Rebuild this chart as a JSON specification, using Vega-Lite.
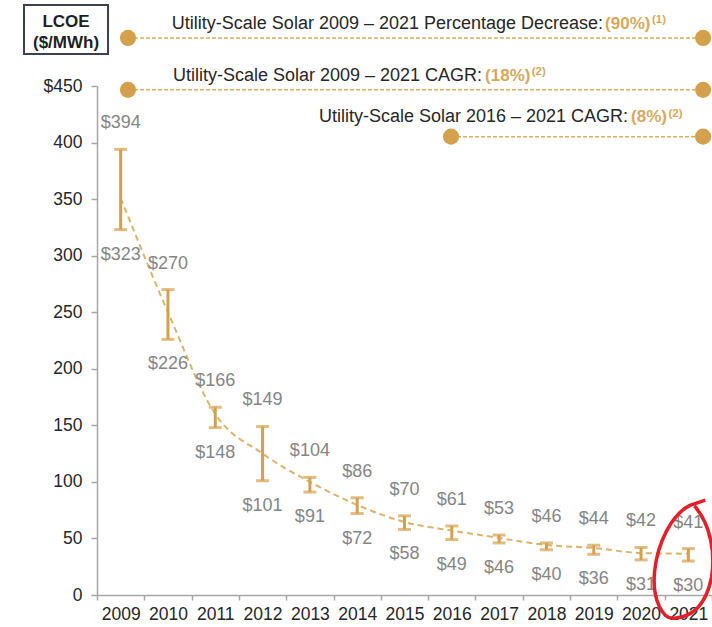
{
  "$schema": "https://vega.github.io/schema/vega-lite/v6.json",
  "autosize": {"type": "none"},
  "padding": {"left": 97, "top": 86, "right": 0, "bottom": 32},
  "width": 615,
  "height": 509,
  "background": "white",
  "config": {
    "view": {"stroke": null},
    "font": "Liberation Sans",
    "axis": {
      "labelFont": "Liberation Sans",
      "labelFontSize": 17.5,
      "labelColor": "#262626",
      "domainColor": "#a6a6a6",
      "domainWidth": 1.5,
      "tickColor": "#a6a6a6",
      "tickWidth": 1.5,
      "grid": false
    }
  },
  "datasets": {
    "lcoe": [
      {"year": "2009", "low": 323, "high": 394, "trend": 351},
      {"year": "2010", "low": 226, "high": 270, "trend": 250},
      {"year": "2011", "low": 148, "high": 166, "trend": 160},
      {"year": "2012", "low": 101, "high": 149, "trend": 125},
      {"year": "2013", "low": 91, "high": 104, "trend": 100},
      {"year": "2014", "low": 72, "high": 86, "trend": 79.6},
      {"year": "2015", "low": 58, "high": 70, "trend": 64.5},
      {"year": "2016", "low": 49, "high": 61, "trend": 57},
      {"year": "2017", "low": 46, "high": 53, "trend": 50.4},
      {"year": "2018", "low": 40, "high": 46, "trend": 44.2},
      {"year": "2019", "low": 36, "high": 44, "trend": 41.6},
      {"year": "2020", "low": 31, "high": 42, "trend": 37.1},
      {"year": "2021", "low": 30, "high": 41, "trend": 36.5}
    ],
    "lines": [
      {"x1": 2009.155, "x2": 2021.312, "y": 492.5},
      {"x1": 2009.155, "x2": 2021.312, "y": 446.6},
      {"x1": 2015.984, "x2": 2021.312, "y": 405.2}
    ],
    "black": [
      {"x": 2019.198, "y": 500.4, "t": "Utility-Scale Solar 2009 – 2021 Percentage Decrease:"},
      {"x": 2016.64, "y": 454.5, "t": "Utility-Scale Solar 2009 – 2021 CAGR:"},
      {"x": 2019.726, "y": 418.2, "t": "Utility-Scale Solar 2016 – 2021 CAGR:"}
    ],
    "gold": [
      {"x": 2019.24, "y": 500.4, "t": "(90%)"},
      {"x": 2016.703, "y": 454.5, "t": "(18%)"},
      {"x": 2019.789, "y": 418.2, "t": "(8%)"}
    ],
    "sup": [
      {"x": 2020.23, "y": 505.5, "t": "(1)"},
      {"x": 2017.69, "y": 459.5, "t": "(2)"},
      {"x": 2020.58, "y": 422.5, "t": "(2)"}
    ],
    "box": [
      {"x1": 2006.957, "x2": 2008.733, "y1": 478.3, "y2": 521.7}
    ],
    "boxtext": [
      {"x": 2007.845, "y": 502.2, "t": "LCOE"},
      {"x": 2007.845, "y": 483.6, "t": "($/MWh)"}
    ],
    "circle": [
      {"x": 2020.889, "y": 30.9}
    ]
  },
  "layer": [
    {
      "data": {"name": "lcoe"},
      "encoding": {
        "x": {
          "field": "year",
          "type": "ordinal",
          "scale": {"type": "band", "paddingInner": 0, "paddingOuter": 0},
          "axis": {"tickBand": "extent", "labelAngle": 0, "title": null, "tickSize": 5, "labelPadding": 5}
        }
      },
      "layer": [
        {
          "mark": {"type": "line", "strokeDash": [6, 4], "strokeWidth": 2, "color": "#DDB36A", "interpolate": "monotone"},
          "encoding": {
            "y": {"field": "trend", "type": "quantitative", "scale": {"domain": [0, 450], "nice": false},
              "axis": {"values": [0, 50, 100, 150, 200, 250, 300, 350, 400, 450], "labelExpr": "datum.value == 450 ? '$450' : datum.label", "title": null, "tickSize": 6, "labelPadding": 9}}
          }
        },
        {
          "mark": {"type": "rule", "strokeWidth": 3, "color": "#D5A04C"},
          "encoding": {
            "y": {"field": "low", "type": "quantitative", "scale": {"domain": [0, 450], "nice": false},
              "axis": {"values": [0, 50, 100, 150, 200, 250, 300, 350, 400, 450], "labelExpr": "datum.value == 450 ? '$450' : datum.label", "title": null, "tickSize": 6, "labelPadding": 9}},
            "y2": {"field": "high"}
          }
        },
        {
          "mark": {"type": "tick", "size": 13, "thickness": 3, "color": "#D5A04C"},
          "encoding": {
            "y": {"field": "low", "type": "quantitative", "scale": {"domain": [0, 450], "nice": false},
              "axis": {"values": [0, 50, 100, 150, 200, 250, 300, 350, 400, 450], "labelExpr": "datum.value == 450 ? '$450' : datum.label", "title": null, "tickSize": 6, "labelPadding": 9}}
          }
        },
        {
          "mark": {"type": "tick", "size": 13, "thickness": 3, "color": "#D5A04C"},
          "encoding": {
            "y": {"field": "high", "type": "quantitative", "scale": {"domain": [0, 450], "nice": false},
              "axis": {"values": [0, 50, 100, 150, 200, 250, 300, 350, 400, 450], "labelExpr": "datum.value == 450 ? '$450' : datum.label", "title": null, "tickSize": 6, "labelPadding": 9}}
          }
        },
        {
          "mark": {"type": "text", "fontSize": 18, "color": "#858585", "baseline": "middle", "dy": -26},
          "encoding": {
            "y": {"field": "high", "type": "quantitative", "scale": {"domain": [0, 450], "nice": false},
              "axis": {"values": [0, 50, 100, 150, 200, 250, 300, 350, 400, 450], "labelExpr": "datum.value == 450 ? '$450' : datum.label", "title": null, "tickSize": 6, "labelPadding": 9}},
            "text": {"field": "high", "type": "quantitative", "format": "$.0f"}
          }
        },
        {
          "mark": {"type": "text", "fontSize": 18, "color": "#858585", "baseline": "middle", "dy": 25},
          "encoding": {
            "y": {"field": "low", "type": "quantitative", "scale": {"domain": [0, 450], "nice": false},
              "axis": {"values": [0, 50, 100, 150, 200, 250, 300, 350, 400, 450], "labelExpr": "datum.value == 450 ? '$450' : datum.label", "title": null, "tickSize": 6, "labelPadding": 9}},
            "text": {"field": "low", "type": "quantitative", "format": "$.0f"}
          }
        }
      ]
    },
    {
      "layer": [
        {
          "data": {"name": "lines"},
          "mark": {"type": "rule", "strokeDash": [4, 2], "strokeWidth": 1.5, "color": "#D9AD62"},
          "encoding": {
            "x": {"field": "x1", "type": "quantitative", "scale": {"domain": [2008.5, 2021.5], "nice": false, "zero": false}, "axis": null},
            "x2": {"field": "x2"},
            "y": {"field": "y", "type": "quantitative", "scale": {"domain": [0, 450], "nice": false}, "axis": null}
          }
        },
        {
          "data": {"name": "lines"},
          "mark": {"type": "point", "filled": true, "size": 260, "opacity": 1, "color": "#D5A04C"},
          "encoding": {
            "x": {"field": "x1", "type": "quantitative", "scale": {"domain": [2008.5, 2021.5], "nice": false, "zero": false}, "axis": null},
            "y": {"field": "y", "type": "quantitative", "scale": {"domain": [0, 450], "nice": false}, "axis": null}
          }
        },
        {
          "data": {"name": "lines"},
          "mark": {"type": "point", "filled": true, "size": 260, "opacity": 1, "color": "#D5A04C"},
          "encoding": {
            "x": {"field": "x2", "type": "quantitative", "scale": {"domain": [2008.5, 2021.5], "nice": false, "zero": false}, "axis": null},
            "y": {"field": "y", "type": "quantitative", "scale": {"domain": [0, 450], "nice": false}, "axis": null}
          }
        },
        {
          "data": {"name": "black"},
          "mark": {"type": "text", "fontSize": 18, "color": "#262626", "align": "right", "baseline": "alphabetic"},
          "encoding": {
            "x": {"field": "x", "type": "quantitative", "scale": {"domain": [2008.5, 2021.5], "nice": false, "zero": false}, "axis": null},
            "y": {"field": "y", "type": "quantitative", "scale": {"domain": [0, 450], "nice": false}, "axis": null},
            "text": {"field": "t"}
          }
        },
        {
          "data": {"name": "gold"},
          "mark": {"type": "text", "fontSize": 17, "fontWeight": "bold", "color": "#D9A85A", "align": "left", "baseline": "alphabetic"},
          "encoding": {
            "x": {"field": "x", "type": "quantitative", "scale": {"domain": [2008.5, 2021.5], "nice": false, "zero": false}, "axis": null},
            "y": {"field": "y", "type": "quantitative", "scale": {"domain": [0, 450], "nice": false}, "axis": null},
            "text": {"field": "t"}
          }
        },
        {
          "data": {"name": "sup"},
          "mark": {"type": "text", "fontSize": 11.5, "fontWeight": "bold", "color": "#D9A85A", "align": "left", "baseline": "alphabetic"},
          "encoding": {
            "x": {"field": "x", "type": "quantitative", "scale": {"domain": [2008.5, 2021.5], "nice": false, "zero": false}, "axis": null},
            "y": {"field": "y", "type": "quantitative", "scale": {"domain": [0, 450], "nice": false}, "axis": null},
            "text": {"field": "t"}
          }
        },
        {
          "data": {"name": "box"},
          "mark": {"type": "rect", "fill": "white", "stroke": "#3b4150", "strokeWidth": 2},
          "encoding": {
            "x": {"field": "x1", "type": "quantitative", "scale": {"domain": [2008.5, 2021.5], "nice": false, "zero": false}, "axis": null},
            "x2": {"field": "x2"},
            "y": {"field": "y1", "type": "quantitative", "scale": {"domain": [0, 450], "nice": false}, "axis": null},
            "y2": {"field": "y2"}
          }
        },
        {
          "data": {"name": "boxtext"},
          "mark": {"type": "text", "fontSize": 17, "fontWeight": "bold", "color": "#1f1f1f", "align": "center", "baseline": "alphabetic"},
          "encoding": {
            "x": {"field": "x", "type": "quantitative", "scale": {"domain": [2008.5, 2021.5], "nice": false, "zero": false}, "axis": null},
            "y": {"field": "y", "type": "quantitative", "scale": {"domain": [0, 450], "nice": false}, "axis": null},
            "text": {"field": "t"}
          }
        },
        {
          "data": {"name": "circle"},
          "mark": {"type": "point", "filled": false, "size": 12996, "opacity": 1, "color": "#E3202A", "strokeWidth": 3.5,
            "shape": "M0.39,-1.05 L0.12,-0.96 C-0.2,-0.8 -0.45,-0.3 -0.5,0.2 C-0.55,0.7 -0.35,1.05 -0.15,1.02 C0.15,1 0.4,0.8 0.5,0.3 C0.56,-0.1 0.5,-0.6 0.2,-0.95"},
          "encoding": {
            "x": {"field": "x", "type": "quantitative", "scale": {"domain": [2008.5, 2021.5], "nice": false, "zero": false}, "axis": null},
            "y": {"field": "y", "type": "quantitative", "scale": {"domain": [0, 450], "nice": false}, "axis": null}
          }
        }
      ]
    }
  ],
  "resolve": {"scale": {"x": "independent", "y": "independent"}, "axis": {"x": "independent", "y": "independent"}}
}
